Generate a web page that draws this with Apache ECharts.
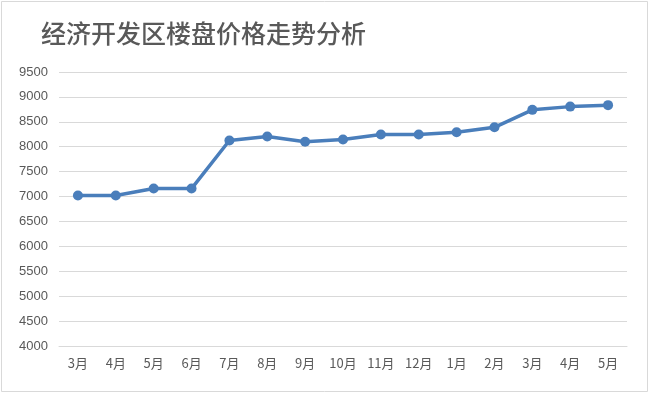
<!DOCTYPE html>
<html><head><meta charset="utf-8">
<script src="https://cdn.jsdelivr.net/npm/echarts@6/dist/echarts.min.js"></script>
<style>html,body{margin:0;padding:0;background:#fff}#c{width:650px;height:395px}</style>
</head><body><div id="c"></div>
<script>
const titleText = '经济开发区楼盘价格走势分析';
const categories = ['3月','4月','5月','6月','7月','8月','9月','10月','11月','12月','1月','2月','3月','4月','5月'];
const prices = [7020,7020,7160,7160,8125,8205,8100,8145,8245,8245,8290,8390,8740,8805,8835];
const yMin = 4000, yMax = 9500, yStep = 500;

const chart = echarts.init(document.getElementById('c'), null, {renderer:'canvas'});
chart.setOption({
  animation:false,
  backgroundColor:'#fff',
  graphic:[{type:'rect',shape:{x:1.5,y:1.5,width:646,height:390},style:{fill:'none',stroke:'#d9d9d9',lineWidth:1}}],
  title:{text:titleText,left:36,top:16,textStyle:{fontFamily:'Noto Sans CJK SC',fontSize:25,fontWeight:500,color:'#595959'}},
  grid:{left:59,right:23,top:72,bottom:49},
  xAxis:{type:'category',data:categories,boundaryGap:true,
    axisLine:{show:true,lineStyle:{color:'#d9d9d9'}},axisTick:{show:false},
    axisLabel:{color:'#595959',fontSize:13,fontFamily:'Noto Sans CJK SC',margin:11,interval:0}},
  yAxis:{type:'value',min:yMin,max:yMax,interval:yStep,
    axisLine:{show:false},axisTick:{show:false},
    splitLine:{lineStyle:{color:'#d9d9d9',width:1}},
    axisLabel:{color:'#595959',fontSize:13,fontFamily:'Liberation Sans',margin:11,formatter:function(v){return String(v);}}},
  series:[{type:'line',data:prices,symbol:'circle',symbolSize:10,
    lineStyle:{color:'#4a7ebb',width:3.5},itemStyle:{color:'#4a7ebb'}}]
});
</script></body></html>
